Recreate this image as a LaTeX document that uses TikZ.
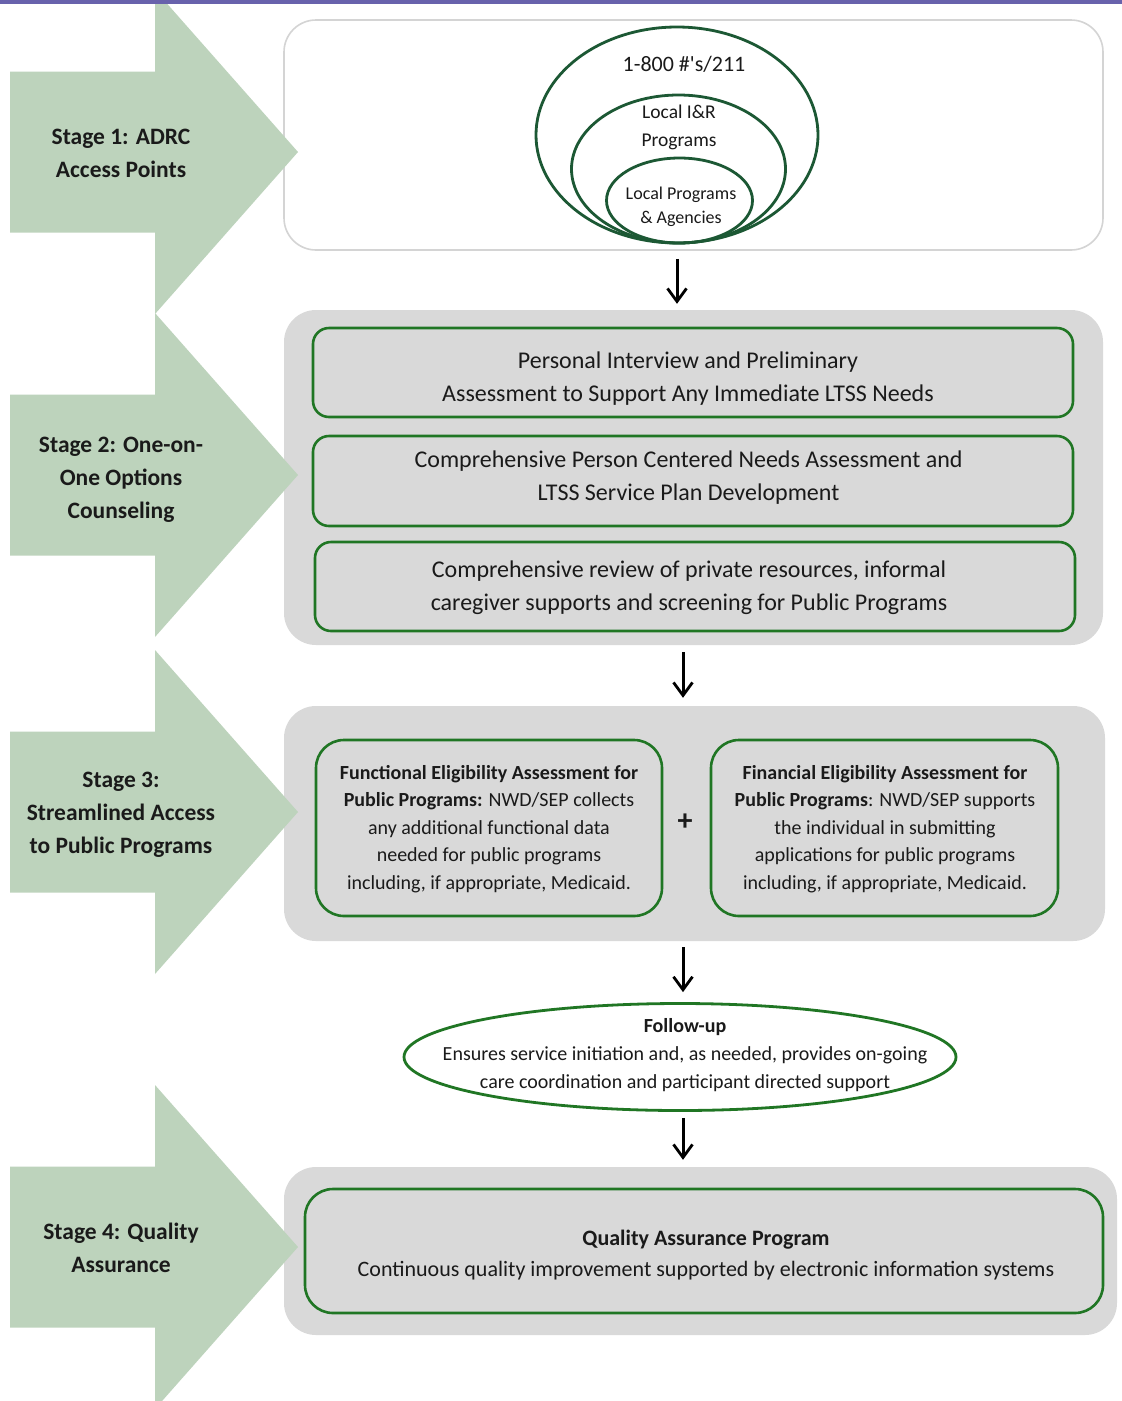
\documentclass[tikz,border=0pt]{standalone}
\usepackage{fontspec}
\setmainfont{Carlito}
\usetikzlibrary{shapes.geometric,arrows.meta}
\definecolor{stagegreen}{RGB}{189,211,188}
\definecolor{ellgreen}{RGB}{28,88,52}
\definecolor{boxgreen}{RGB}{32,118,36}
\definecolor{panelgray}{RGB}{217,217,217}
\definecolor{topbar}{RGB}{104,98,172}
\definecolor{txt}{RGB}{26,26,26}
\definecolor{lightborder}{RGB}{212,212,212}
\tikzset{
  stagearrow/.style={fill=stagegreen,draw=none},
  stagetext/.style={align=center,text=txt,font=\fontsize{23.5}{33}\selectfont\bfseries},
  panel/.style={fill=panelgray,draw=none,rounded corners=32pt,inner sep=0pt},
  greenbox/.style={fill=panelgray,draw=boxgreen,line width=2.6pt,inner sep=0pt},
  boxtext/.style={align=center,text=txt,inner sep=0pt},
  ring/.style={ellipse,draw=ellgreen,line width=2.8pt,inner sep=0pt},
  flowarrow/.style={draw=black,line width=3pt,-{Straight Barb[length=13pt,width=19pt,line width=2.8pt]}},
}
\begin{document}
\begin{tikzpicture}[x=1pt,y=-1pt]
\clip (0,0) rectangle (1122,1401);
\fill[white] (0,0) rectangle (1122,1401);

% Box 1
\node[draw=lightborder,line width=1.6pt,fill=white,rounded corners=32pt,minimum width=819pt,minimum height=230pt,inner sep=0pt] (box1) at (693.5,135) {};
\node[ring,minimum width=282pt,minimum height=216pt] (outer) at (677,135) {};
\node[ring,minimum width=214pt,minimum height=148pt] (middle) at (678.5,169) {};
\node[ring,minimum width=146pt,minimum height=85pt] (inner) at (679.5,200.5) {};
\node[text=txt,font=\fontsize{22}{28}\selectfont] (t1) at (684,64) {1-800 \#\textquotesingle s/211};
\node[text=txt,align=center,font=\fontsize{19.5}{28}\selectfont] (t2) at (679,127) {Local I\&R\\Programs};
\node[text=txt,align=center,font=\fontsize{18}{24}\selectfont] (t3) at (681,207) {Local Programs\\\& Agencies};

% Box 2
\node[panel,minimum width=819pt,minimum height=335pt] (box2) at (693.5,477.5) {};
\node[greenbox,rounded corners=16pt,minimum width=760pt,minimum height=89pt] (b2a) at (693,372.5) {};
\node[boxtext,font=\fontsize{24}{33}\selectfont] (b2at) at (688,378.5) {Personal Interview and Preliminary\\Assessment to Support Any Immediate LTSS Needs};
\node[greenbox,rounded corners=16pt,minimum width=760pt,minimum height=90pt] (b2b) at (693,481) {};
\node[boxtext,font=\fontsize{24}{33}\selectfont] (b2bt) at (688.5,477.5) {Comprehensive Person Centered Needs Assessment and\\LTSS Service Plan Development};
\node[greenbox,rounded corners=16pt,minimum width=760pt,minimum height=89pt] (b2c) at (695,586.5) {};
\node[boxtext,font=\fontsize{24}{33}\selectfont] (b2ct) at (689,587.5) {Comprehensive review of private resources, informal\\caregiver supports and screening for Public Programs};

% Box 3
\node[panel,minimum width=821pt,minimum height=235pt] (box3) at (694.5,823.5) {};
\node[greenbox,rounded corners=28pt,minimum width=346pt,minimum height=176pt] (fun) at (489,828) {};
\node[boxtext,font=\fontsize{20}{27.5}\selectfont] (funt) at (489,829) {\textbf{Functional Eligibility Assessment for}\\\textbf{Public Programs:} NWD/SEP collects\\any additional functional data\\needed for public programs\\including, if appropriate, Medicaid.};
\node[greenbox,rounded corners=28pt,minimum width=347pt,minimum height=176pt] (fin) at (884.5,828) {};
\node[boxtext,font=\fontsize{20}{27.5}\selectfont] (fint) at (885,829) {\textbf{Financial Eligibility Assessment for}\\\textbf{Public Programs}: NWD/SEP supports\\the individual in submitting\\applications for public programs\\including, if appropriate, Medicaid.};
\node[text=txt,font=\fontsize{30}{30}\selectfont\bfseries] (plus) at (685,822) {+};

% Follow-up
\node[ellipse,draw=boxgreen,line width=2.8pt,fill=white,minimum width=552pt,minimum height=107pt,inner sep=0pt] (fu) at (680,1057) {};
\node[boxtext,font=\fontsize{20}{28}\selectfont] (fut) at (685,1055.5) {\textbf{Follow-up}\\Ensures service initiation and, as needed, provides on-going\\care coordination and participant directed support};

% Box 4
\node[panel,minimum width=833pt,minimum height=168pt] (box4) at (700.5,1251) {};
\node[greenbox,rounded corners=28pt,minimum width=798pt,minimum height=124pt] (qa) at (704,1251) {};
\node[boxtext,font=\fontsize{22}{31}\selectfont] (qat) at (706,1255) {\textbf{Quality Assurance Program}\\Continuous quality improvement supported by electronic information systems};

% stage arrows (drawn over the panels)
\foreach \c in {152,475,812,1247}{
  \fill[stagearrow] (10,\c-80.5) -- (155,\c-80.5) -- (155,\c-162) -- (298,\c) -- (155,\c+162) -- (155,\c+80.5) -- (10,\c+80.5) -- cycle;
}
\node[stagetext] (s1) at (121,153) {Stage 1: ADRC\\Access Points};
\node[stagetext] (s2) at (121,480) {Stage 2: One-on-\\One Options\\Counseling};
\node[stagetext] (s3) at (121,815) {Stage 3:\\Streamlined Access\\to Public Programs};
\node[stagetext] (s4) at (121,1248) {Stage 4: Quality\\Assurance};

% top bar
\fill[topbar] (0,0) rectangle (1122,4);

% connectors
\coordinate (ax) at (683,0);
\draw[flowarrow,shorten <=8pt,shorten >=6pt] (box1.south -| outer.south) -- (box2.north -| outer.south);
\draw[flowarrow,shorten <=7pt,shorten >=8pt] (box2.south -| ax) -- (box3.north -| ax);
\draw[flowarrow,shorten <=6pt,shorten >=10pt] (box3.south -| ax) -- (fu.north -| ax);
\draw[flowarrow,shorten <=6pt,shorten >=7pt] (fu.south -| ax) -- (box4.north -| ax);
\end{tikzpicture}
\end{document}
